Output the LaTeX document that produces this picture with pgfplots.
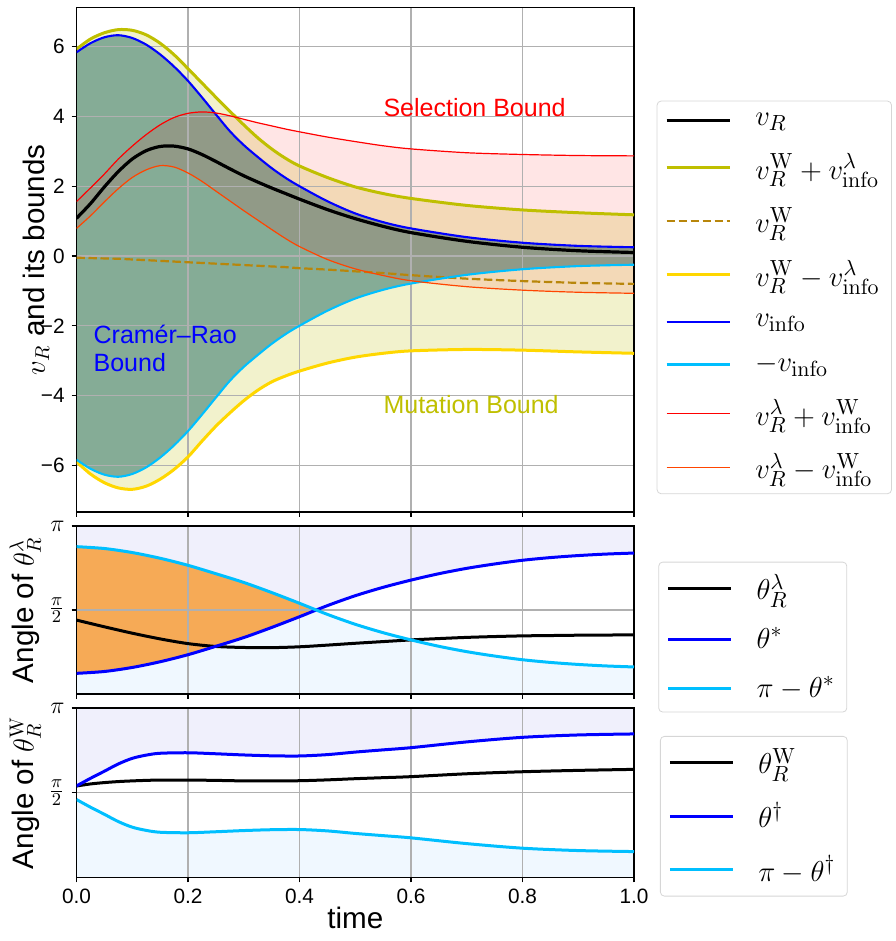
\documentclass[border=0pt]{standalone}
\usepackage[no-math]{fontspec}
\setmainfont{Liberation Sans}
\usepackage{pgfplots}
\pgfplotsset{compat=1.18}
\usepackage{pgfplotstable}
\usepgfplotslibrary{fillbetween}

\definecolor{olivey}{RGB}{191,191,0}
\definecolor{dgold}{RGB}{184,134,11}
\definecolor{goldc}{RGB}{255,215,0}
\definecolor{dsky}{RGB}{0,191,255}
\definecolor{ored}{RGB}{255,69,0}
\definecolor{crfill}{RGB}{24,102,96}
\definecolor{lav}{RGB}{240,240,252}
\definecolor{alice}{RGB}{240,248,255}
\definecolor{orfill}{RGB}{246,170,86}
\definecolor{gridc}{RGB}{176,176,176}
\definecolor{legframe}{RGB}{214,214,214}

\tikzset{anno/.style={anchor=base west, inner sep=0pt, font=\fontsize{12.5}{14}\selectfont}}
\newcommand{\pil}[1]{{\fontsize{13}{15}\selectfont$#1$}}

\pgfplotsset{
  layers/mylayers/.define layer set={axis background,pre main,axis grid,axis ticks,axis lines,axis tick labels,main,axis descriptions,axis foreground}{
    grid style={/pgfplots/on layer=axis grid},
    tick style={/pgfplots/on layer=axis ticks},
    axis line style={/pgfplots/on layer=axis lines},
    label style={/pgfplots/on layer=axis descriptions},
    legend style={/pgfplots/on layer=axis descriptions},
    title style={/pgfplots/on layer=axis descriptions},
    colorbar style={/pgfplots/on layer=axis descriptions},
    ticklabel style={/pgfplots/on layer=axis tick labels},
    axis background@ style={/pgfplots/on layer=axis background},
    3d box foreground style={/pgfplots/on layer=axis foreground},
  },
  base/.style={
    set layers=mylayers,
    scale only axis, width=278.75pt,
    xmin=0, xmax=1,
    xtick={0,0.2,0.4,0.6,0.8,1},
    axis line style={line width=0.55pt},
    xmajorgrids, ymajorgrids,
    grid style={color=gridc, line width=0.55pt},
    tick style={black, line width=0.55pt},
    tick align=outside, major tick length=2.4pt,
    xtick pos=lower, ytick pos=left,
    xticklabel style={font=\fontsize{10.4}{12}\selectfont},
    label style={font=\fontsize{14.8}{17}\selectfont},
    legend cell align=left,
    legend image code/.code={\draw[##1, line cap=butt] (0pt,0pt) -- (31.5pt,0pt);},
  },
  legbase/.style={
    legend style={anchor=north west, draw=legframe, rounded corners=2pt, fill=white,
      inner xsep=4pt, inner ysep=6pt, row sep=12.5pt, font=\fontsize{15}{17}\selectfont,
      nodes={inner ysep=0pt},
      /tikz/every odd column/.append style={column sep=10pt}},
  },
}

\pgfplotstableread{
t     A     B     NB    V     C     D     E     F
0.000 5.93  5.84  -5.84 1.08  1.56  0.79  -0.05 -5.90
0.025 6.22  6.10  -6.10 1.50  1.95  1.15  -0.06 -6.25
0.050 6.40  6.27  -6.27 1.98  2.35  1.55  -0.07 -6.50
0.075 6.49  6.33  -6.33 2.42  2.78  1.93  -0.08 -6.65
0.100 6.47  6.25  -6.25 2.78  3.15  2.25  -0.10 -6.69
0.125 6.34  6.06  -6.06 3.02  3.48  2.47  -0.12 -6.60
0.150 6.10  5.78  -5.78 3.14  3.76  2.59  -0.14 -6.40
0.175 5.77  5.43  -5.43 3.15  3.97  2.55  -0.16 -6.12
0.200 5.37  5.02  -5.02 3.07  4.09  2.38  -0.18 -5.76
0.225 4.96  4.55  -4.55 2.91  4.13  2.14  -0.20 -5.31
0.250 4.55  4.06  -4.06 2.71  4.10  1.86  -0.22 -4.88
0.275 4.15  3.58  -3.58 2.50  4.02  1.58  -0.24 -4.50
0.300 3.76  3.18  -3.18 2.30  3.92  1.30  -0.26 -4.15
0.325 3.39  2.84  -2.84 2.12  3.82  1.03  -0.28 -3.85
0.350 3.07  2.52  -2.52 1.95  3.73  0.76  -0.30 -3.61
0.375 2.80  2.24  -2.24 1.79  3.64  0.50  -0.32 -3.44
0.400 2.58  2.00  -2.00 1.63  3.56  0.27  -0.35 -3.30
0.450 2.25  1.57  -1.57 1.33  3.41  -0.10 -0.39 -3.07
0.500 1.98  1.22  -1.22 1.07  3.28  -0.37 -0.44 -2.90
0.550 1.79  0.97  -0.97 0.85  3.16  -0.56 -0.49 -2.79
0.600 1.65  0.79  -0.79 0.67  3.07  -0.71 -0.55 -2.72
0.700 1.45  0.54  -0.54 0.42  2.96  -0.88 -0.65 -2.68
0.800 1.32  0.38  -0.38 0.25  2.91  -0.98 -0.72 -2.70
0.900 1.24  0.29  -0.29 0.15  2.88  -1.04 -0.77 -2.75
1.000 1.18  0.25  -0.25 0.10  2.87  -1.07 -0.80 -2.79
}\topdata

\pgfplotstableread{
t    g     h     K
0.00 0.123 0.877 0.440
0.05 0.134 0.866 0.400
0.10 0.158 0.842 0.362
0.15 0.192 0.808 0.328
0.20 0.234 0.766 0.300
0.25 0.284 0.716 0.283
0.30 0.336 0.664 0.277
0.35 0.396 0.604 0.276
0.40 0.460 0.540 0.281
0.45 0.526 0.474 0.291
0.50 0.585 0.415 0.302
0.55 0.635 0.365 0.312
0.60 0.678 0.322 0.322
0.65 0.716 0.284 0.330
0.70 0.748 0.252 0.337
0.75 0.774 0.226 0.342
0.80 0.796 0.204 0.346
0.85 0.812 0.188 0.348
0.90 0.824 0.176 0.350
0.95 0.833 0.167 0.351
1.00 0.839 0.161 0.352
}\middata

% upper / lower envelope of theta* and pi - theta*
\pgfplotstableread{
t    up    lo
0.00 0.877 0.123
0.05 0.866 0.134
0.10 0.842 0.158
0.15 0.808 0.192
0.20 0.766 0.234
0.25 0.716 0.284
0.30 0.664 0.336
0.35 0.604 0.396
0.40 0.540 0.460
0.43 0.500 0.500
0.45 0.526 0.474
0.50 0.585 0.415
0.55 0.635 0.365
0.60 0.678 0.322
0.65 0.716 0.284
0.70 0.748 0.252
0.75 0.774 0.226
0.80 0.796 0.204
0.85 0.812 0.188
0.90 0.824 0.176
0.95 0.833 0.167
1.00 0.839 0.161
}\envdata

\pgfplotstableread{
t    up    lo
0.00 0.877 0.123
0.05 0.866 0.134
0.10 0.842 0.158
0.15 0.808 0.192
0.20 0.766 0.234
0.25 0.716 0.284
0.30 0.664 0.336
0.35 0.604 0.396
0.40 0.540 0.460
0.43 0.500 0.500
}\orngdata

\pgfplotstableread{
t     p     q     W
0.000 0.540 0.460 0.540
0.025 0.585 0.415 0.552
0.050 0.627 0.373 0.560
0.075 0.670 0.330 0.566
0.100 0.703 0.297 0.570
0.125 0.722 0.278 0.573
0.150 0.733 0.267 0.575
0.200 0.736 0.264 0.575
0.250 0.730 0.270 0.573
0.300 0.723 0.277 0.570
0.350 0.718 0.282 0.570
0.400 0.717 0.283 0.571
0.450 0.725 0.275 0.576
0.500 0.740 0.260 0.583
0.550 0.753 0.247 0.589
0.600 0.766 0.234 0.595
0.700 0.800 0.200 0.612
0.800 0.827 0.173 0.624
0.900 0.841 0.159 0.632
1.000 0.847 0.153 0.638
}\botdata

\pgfplotstableread{
t y
0 1
1 1
}\ones
\pgfplotstableread{
t y
0 0
1 0
}\zeros

\begin{document}
\begin{tikzpicture}

% ---------------- top panel
\begin{axis}[base, legbase, at={(38.25pt,-3.65pt)}, anchor=north west, height=252.35pt,
  ymin=-7.34, ymax=7.13, ytick={-6,-4,-2,0,2,4,6},
  yticklabels={{\fontsize{10.4}{12}\selectfont −6},{\fontsize{10.4}{12}\selectfont −4},{\fontsize{10.4}{12}\selectfont −2},{\fontsize{10.4}{12}\selectfont 0},{\fontsize{10.4}{12}\selectfont 2},{\fontsize{10.4}{12}\selectfont 4},{\fontsize{10.4}{12}\selectfont 6}},
  xticklabels={},
  ylabel={$v_R$ and its bounds},
  ylabel style={at={(axis description cs:-0.072,0.5)}, anchor=center},
  legend style={at={(axis description cs:1.0407,0.815)}},
]
\addplot[black, line width=1.6pt, smooth] table[x=t,y=V]{\topdata};
\addlegendentry{$v_R$}
\addplot[olivey, line width=1.5pt, smooth, name path=A] table[x=t,y=A]{\topdata};
\addlegendentry{$v_R^{\mathrm{W}}+v_{\mathrm{info}}^{\lambda}$}
\addplot[dgold, line width=1.1pt, smooth, dash pattern=on 4.2pt off 1.8pt] table[x=t,y=E]{\topdata};
\addlegendentry{$v_R^{\mathrm{W}}$}
\addplot[goldc, line width=1.5pt, smooth, name path=F] table[x=t,y=F]{\topdata};
\addlegendentry{$v_R^{\mathrm{W}}-v_{\mathrm{info}}^{\lambda}$}
\addplot[blue, line width=1.05pt, smooth, name path=B] table[x=t,y=B]{\topdata};
\addlegendentry{$v_{\mathrm{info}}$}
\addplot[dsky, line width=1.05pt, smooth, name path=NB] table[x=t,y=NB]{\topdata};
\addlegendentry{$-v_{\mathrm{info}}$}
\addplot[red, line width=0.6pt, smooth, name path=C] table[x=t,y=C]{\topdata};
\addlegendentry{$v_R^{\lambda}+v_{\mathrm{info}}^{\mathrm{W}}$}
\addplot[ored, line width=0.6pt, smooth, name path=D] table[x=t,y=D]{\topdata};
\addlegendentry{$v_R^{\lambda}-v_{\mathrm{info}}^{\mathrm{W}}$}
\addplot[fill=olivey, fill opacity=0.2, draw=none, forget plot] fill between[of=A and F];
\addplot[fill=crfill, fill opacity=0.5, draw=none, forget plot] fill between[of=B and NB];
\addplot[fill=red, fill opacity=0.1, draw=none, forget plot] fill between[of=C and D];
\node[anno, text=red] at (axis cs:0.55,3.99) {Selection Bound};
\node[anno, text=olivey] at (axis cs:0.55,-4.51) {Mutation Bound};
\node[anno, text=blue] at (axis cs:0.030,-2.50) {Cramér–Rao};
\node[anno, text=blue] at (axis cs:0.030,-3.32) {Bound};
\end{axis}

% ---------------- middle panel
\begin{axis}[base, legbase, at={(38.25pt,-263pt)}, anchor=north west, height=84pt,
  ymin=0, ymax=1, ytick={0.5,1}, yticklabels={\pil{\frac{\pi}{2}},\pil{\pi}},
  xticklabels={},
  ylabel={Angle of $\theta_R^{\lambda}$},
  ylabel style={at={(axis description cs:-0.092,0.5)}, anchor=center},
  legend style={at={(axis description cs:1.0436,0.7875)}},
]
\addplot[name path=top, draw=none, forget plot] table[x=t,y=y]{\ones};
\addplot[name path=bot, draw=none, forget plot] table[x=t,y=y]{\zeros};
\addplot[name path=up, draw=none, forget plot] table[x=t,y=up]{\envdata};
\addplot[name path=lo, draw=none, forget plot] table[x=t,y=lo]{\envdata};
\addplot[name path=oup, draw=none, forget plot] table[x=t,y=up]{\orngdata};
\addplot[name path=olo, draw=none, forget plot] table[x=t,y=lo]{\orngdata};
\addplot[fill=lav, draw=none, forget plot] fill between[of=up and top];
\addplot[fill=alice, draw=none, forget plot] fill between[of=bot and lo];
\addplot[fill=orfill, draw=none, forget plot] fill between[of=olo and oup];
\addplot[black, line width=1.5pt, smooth] table[x=t,y=K]{\middata};
\addlegendentry{$\theta_R^{\lambda}$}
\addplot[blue, line width=1.5pt, smooth] table[x=t,y=g]{\middata};
\addlegendentry{$\theta^*$}
\addplot[dsky, line width=1.5pt, smooth] table[x=t,y=h]{\middata};
\addlegendentry{$\pi-\theta^*$}
\end{axis}

% ---------------- bottom panel
\begin{axis}[base, legbase, at={(38.25pt,-354pt)}, anchor=north west, height=84.75pt,
  ymin=0, ymax=1, ytick={0.5,1}, yticklabels={\pil{\frac{\pi}{2}},\pil{\pi}},
  xticklabels={0.0,0.2,0.4,0.6,0.8,1.0},
  xlabel={time},
  xlabel style={at={(axis description cs:0.5,-0.239)}, anchor=center},
  ylabel={Angle of $\theta_R^{\mathrm{W}}$},
  ylabel style={at={(axis description cs:-0.092,0.5)}, anchor=center},
  legend style={at={(axis description cs:1.0466,0.835)}},
]
\addplot[name path=top2, draw=none, forget plot] table[x=t,y=y]{\ones};
\addplot[name path=bot2, draw=none, forget plot] table[x=t,y=y]{\zeros};
\addplot[black, line width=1.5pt, smooth] table[x=t,y=W]{\botdata};
\addlegendentry{$\theta_R^{\mathrm{W}}$}
\addplot[blue, line width=1.5pt, smooth, name path=td] table[x=t,y=p]{\botdata};
\addlegendentry{$\theta^{\dagger}$}
\addplot[dsky, line width=1.5pt, smooth, name path=tdc] table[x=t,y=q]{\botdata};
\addlegendentry{$\pi-\theta^{\dagger}$}
\addplot[fill=lav, draw=none, forget plot] fill between[of=td and top2];
\addplot[fill=alice, draw=none, forget plot] fill between[of=bot2 and tdc];
\end{axis}
\pgfresetboundingbox
\path (0pt,0pt) rectangle (447.5pt,-470.5pt);
\end{tikzpicture}
\end{document}
